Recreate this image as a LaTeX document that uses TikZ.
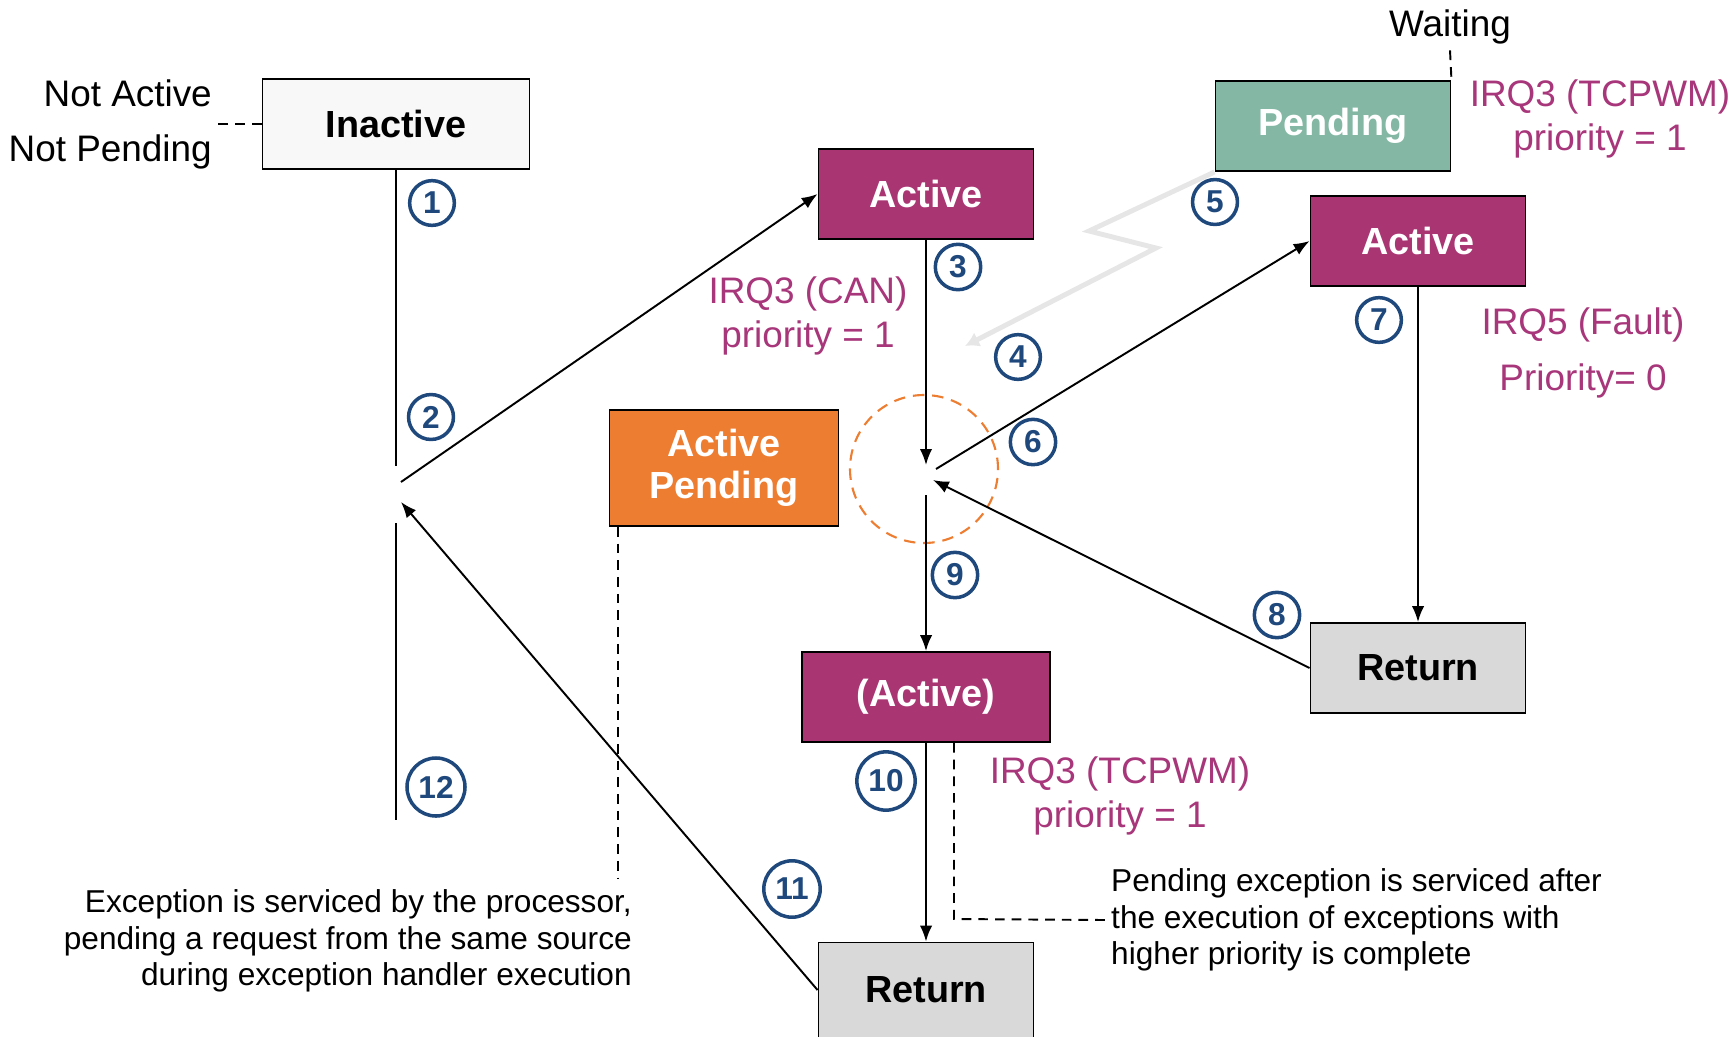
\documentclass[tikz,border=0pt]{standalone}
\usepackage{fontspec}
\setmainfont{Liberation Sans}
\usetikzlibrary{shapes,arrows.meta}
\definecolor{plum}{HTML}{A93573}
\definecolor{seagreen}{HTML}{84B8A5}
\definecolor{actorange}{HTML}{ED7D31}
\definecolor{retgray}{HTML}{D9D9D9}
\definecolor{idlegray}{HTML}{F8F8F8}
\definecolor{irqtext}{HTML}{A8367A}
\definecolor{numblue}{HTML}{1F497D}
\definecolor{boltgray}{HTML}{E6E6E6}
\tikzstyle{block} = [rectangle, draw, line width=1.1pt, minimum width=4.3cm,
    minimum height=1.8cm, align=center, font=\fontsize{21.5}{24}\selectfont\bfseries]
\tikzstyle{activeblock} = [block, fill=plum, text=white]
\tikzstyle{returnblock} = [block, fill=retgray]
\tikzstyle{line} = [draw, line width=1.1pt, -{Latex[length=9pt, width=7pt]}]
\tikzstyle{hint} = [draw, line width=1.1pt, dash pattern=on 5.5pt off 4pt]
\tikzstyle{bolt} = [draw=boltgray, line width=2.8pt, -{Latex[length=8pt, width=9pt]}]
\tikzstyle{num} = [circle, draw=numblue, line width=2pt, text=numblue,
    inner sep=3.4pt, minimum size=8.1mm, font=\fontsize{18}{20}\selectfont\bfseries]
\tikzstyle{irq} = [text=irqtext, align=center, font=\fontsize{21}{25}\selectfont]
\tikzstyle{note} = [font=\fontsize{18}{20.8}\selectfont]

\begin{document}
\begin{tikzpicture}[x=0.2mm, y=-0.2mm]
    \useasboundingbox (0,0) rectangle (1734,1036);
    % Place nodes
    \node [block, fill=idlegray, minimum width=5.34cm] (inactive) at (396,124) {Inactive};
    \node [activeblock] (active1) at (926,194) {Active};
    \node [block, fill=seagreen, text=white, minimum width=4.7cm] (pending) at (1333,126) {Pending};
    \node [activeblock] (active2) at (1418,241) {Active};
    \node [block, fill=actorange, text=white, minimum width=4.58cm, minimum height=2.32cm] (actpend) at (724,468) {Active\\Pending};
    \node [activeblock, below of=active1, node distance=10.06cm, minimum width=4.96cm] (active3) {(Active)};
    \node [returnblock, below of=active2, node distance=8.54cm] (return1) {Return};
    \node [returnblock, below of=active3, node distance=5.86cm, minimum height=1.9cm] (return2) {Return};

    \node [circle, draw=actorange, line width=1.2pt, dash pattern=on 6.5pt off 4.5pt, minimum size=29.6mm] (hub) at (924,469) {};

    \node [align=right, anchor=east, font=\fontsize{21}{31.3}\selectfont] (notact) at (218,124) {Not Active\\Not Pending};
    \node [font=\fontsize{21}{24}\selectfont] (waiting) at (1450,27) {Waiting};
    \node [irq] (irqcan) at (808,316) {IRQ3 (CAN)\\priority = 1};
    \node [irq] (irqtop) at (1600,119) {IRQ3 (TCPWM)\\priority = 1};
    \node [irq, font=\fontsize{21}{32}\selectfont] (irqfault) at (1583,353) {IRQ5 (Fault)\\Priority= 0};
    \node [irq] (irqbot) at (1120,796) {IRQ3 (TCPWM)\\priority = 1};
    \node [note, align=right, anchor=east] (note1) at (638,941) {Exception is serviced by the processor,\\pending a request from the same source\\during exception handler execution};
    \node [note, align=left, anchor=west] (note2) at (1105,920) {Pending exception is serviced after\\the execution of exceptions with\\higher priority is complete};

    % Junction points
    \coordinate (ltop) at (396,466);
    \coordinate (lbot) at (396,523);
    \coordinate (lend) at (396,820);
    \coordinate (lout) at (401,482);
    \coordinate (lin) at (401,502);
    \coordinate (cin) at (926,465);
    \coordinate (cout) at (936,469);
    \coordinate (cback) at (933,480);
    \coordinate (cbot) at (926,495);
    \coordinate (boltend) at (965,346);
    \coordinate (apfoot) at (618,879);
    \coordinate (tcorner) at (954,919);

    % Step numbers
    \foreach \n/\x/\y in {1/432/203, 2/431/417, 3/958/267, 4/1018/357, 5/1215/202, 6/1033/442,
        7/1379/320, 8/1277/615, 9/955/575, 10/886/781, 11/792/889, 12/436/787}
        \node [num] (n\n) at (\x,\y) {\n};

    % Draw edges
    \draw [line width=1.1pt] (inactive) -- (ltop);
    \draw [line width=1.1pt] (lbot) -- (lend);
    \path [line] (lout) -- (active1.west);
    \path [line] (return2.west) -- (lin);
    \path [line] (active1) -- (cin);
    \path [line] (cout) -- (active2.west);
    \path [line] (return1.west) -- (cback);
    \path [line] (cbot) -- (active3);
    \path [line] (active3) -- (return2);
    \path [line] (active2) -- (return1);
    \path [bolt] (pending.south west) -- (1089,231) -- (1156,248) -- (boltend);

    \path [hint] (inactive.west) -- (notact.east);
    \path [hint] (waiting.south) -- (pending.north east);
    \path [hint] (apfoot |- actpend.south) -- (apfoot);
    \path [hint] (tcorner |- active3.south) -- (tcorner) -- (note2.west);
\end{tikzpicture}
\end{document}
